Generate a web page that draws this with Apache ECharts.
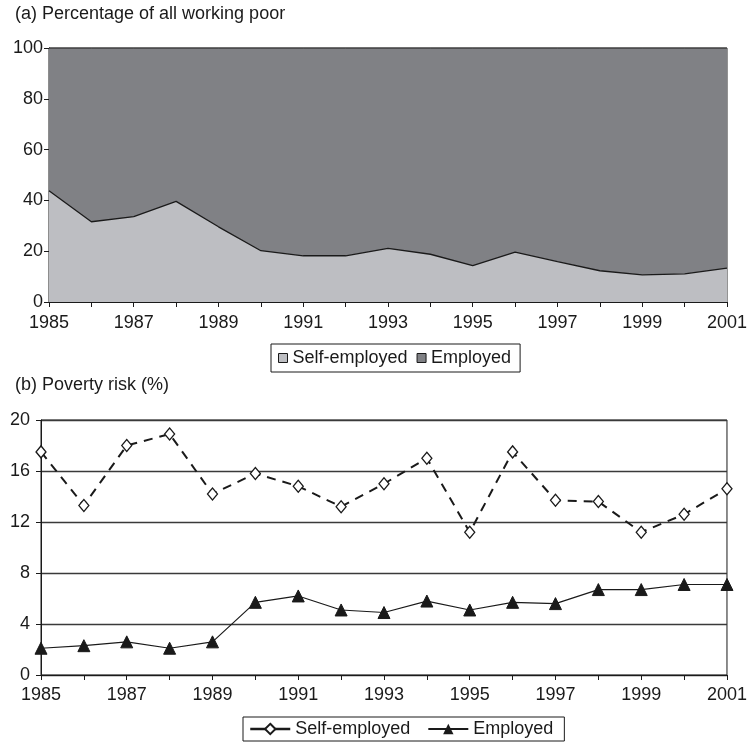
<!DOCTYPE html>
<html>
<head>
<meta charset="utf-8">
<script src="https://cdn.jsdelivr.net/npm/echarts@6/dist/echarts.min.js"></script>
<style>
  html, body { margin: 0; padding: 0; background: #fff; }
  #chart { width: 750px; height: 744px; }
</style>
</head>
<body>
<div id="chart"></div>
<script>
var years = ['1985', '1986', '1987', '1988', '1989', '1990', '1991', '1992', '1993',
  '1994', '1995', '1996', '1997', '1998', '1999', '2000', '2001'];

// (a) share of working poor, %
var shareSelf = [43.8, 31.6, 33.6, 39.6, 29.6, 20.2, 18.2, 18.2, 21.1, 18.8, 14.3, 19.6, 15.9, 12.3, 10.7, 11.1, 13.3];
var shareEmployed = [56.2, 68.4, 66.4, 60.4, 70.4, 79.8, 81.8, 81.8, 78.9, 81.2, 85.7, 80.4, 84.1, 87.7, 89.3, 88.9, 86.7];

// (b) poverty risk, %
var riskSelf = [17.5, 13.3, 18.0, 18.9, 14.2, 15.8, 14.8, 13.2, 15.0, 17.0, 11.2, 17.5, 13.7, 13.6, 11.2, 12.6, 14.6];
var riskEmployed = [2.1, 2.3, 2.6, 2.1, 2.6, 5.7, 6.2, 5.1, 4.9, 5.8, 5.1, 5.7, 5.6, 6.7, 6.7, 7.1, 7.1];

var font = 'Liberation Sans, Arial, sans-serif';
var ink = '#1a1a1a';
var fs = 18;

var chart = echarts.init(document.getElementById('chart'));

function xAxis(gridIndex, margin) {
  return {
    type: 'category',
    gridIndex: gridIndex,
    data: years,
    boundaryGap: false,
    axisLine: { lineStyle: { color: ink, width: 1 } },
    axisTick: { show: true, interval: 0, length: 5, lineStyle: { color: ink } },
    axisLabel: { interval: 1, color: ink, fontSize: fs, fontFamily: font, margin: margin },
    splitLine: { show: false }
  };
}

var option = {
  animation: false,
  backgroundColor: '#fff',
  title: [
    { text: '(a) Percentage of all working poor', left: 15, top: 5, padding: 0,
      textStyle: { fontSize: fs, fontWeight: 'normal', color: ink, fontFamily: font } },
    { text: '(b) Poverty risk (%)', left: 15, top: 376, padding: 0,
      textStyle: { fontSize: fs, fontWeight: 'normal', color: ink, fontFamily: font } }
  ],
  legend: [
    {
      data: [
        { name: 'Self-employed', icon: 'rect', itemStyle: { color: '#bdbec2', borderColor: ink, borderWidth: 1 } },
        { name: 'Employed', icon: 'rect', itemStyle: { color: '#808185', borderColor: ink, borderWidth: 1 } }
      ],
      left: 271, top: 344,
      itemWidth: 9, itemHeight: 9, itemGap: 9,
      padding: [5, 9, 5, 7],
      borderColor: ink, borderWidth: 1,
      textStyle: { fontSize: fs, color: ink, fontFamily: font }
    },
    {
      data: [
        { name: 'Self-employed ', lineStyle: { type: 'solid', width: 2.5 } },
        { name: 'Employed ' }
      ],
      left: 243, top: 717,
      itemWidth: 40, itemHeight: 13, itemGap: 12,
      padding: [3, 6, 3, 6],
      borderColor: ink, borderWidth: 1,
      textStyle: { fontSize: fs, color: ink, fontFamily: font }
    }
  ],
  grid: [
    { left: 49, right: 22, top: 48, height: 254, show: true, borderColor: ink, borderWidth: 1 },
    { left: 41, right: 22, top: 420, height: 255, show: true, borderColor: ink, borderWidth: 1 }
  ],
  xAxis: [xAxis(0, 12), xAxis(1, 11)],
  yAxis: [
    {
      type: 'value', gridIndex: 0, min: 0, max: 100, interval: 20,
      axisLine: { show: true, lineStyle: { color: ink } },
      axisTick: { show: true, length: 5, lineStyle: { color: ink } },
      axisLabel: { color: ink, fontSize: fs, fontFamily: font, margin: 6 },
      splitLine: { show: false }
    },
    {
      type: 'value', gridIndex: 1, min: 0, max: 20, interval: 4,
      axisLine: { show: true, lineStyle: { color: ink } },
      axisTick: { show: true, length: 5, lineStyle: { color: ink } },
      axisLabel: { color: ink, fontSize: fs, fontFamily: font, margin: 11 },
      splitLine: { show: true, lineStyle: { color: '#3a3a3a', width: 1.4 } }
    }
  ],
  series: [
    {
      name: 'Self-employed', type: 'line', xAxisIndex: 0, yAxisIndex: 0,
      stack: 'share', data: shareSelf, symbol: 'none',
      lineStyle: { color: ink, width: 1.3 },
      areaStyle: { color: '#bdbec2', opacity: 1 },
      itemStyle: { color: '#bdbec2' }
    },
    {
      name: 'Employed', type: 'line', xAxisIndex: 0, yAxisIndex: 0,
      stack: 'share', data: shareEmployed, symbol: 'none',
      lineStyle: { color: ink, width: 1 },
      areaStyle: { color: '#808185', opacity: 1 },
      itemStyle: { color: '#808185' }
    },
    {
      name: 'Self-employed ', type: 'line', xAxisIndex: 1, yAxisIndex: 1,
      data: riskSelf, symbol: 'diamond', symbolSize: [10, 12],
      lineStyle: { color: ink, width: 2, type: [9, 7] },
      itemStyle: { color: '#fff', borderColor: ink, borderWidth: 1.3 },
      z: 3
    },
    {
      name: 'Employed ', type: 'line', xAxisIndex: 1, yAxisIndex: 1,
      data: riskEmployed, symbol: 'triangle', symbolSize: 12,
      lineStyle: { color: ink, width: 1.2 },
      itemStyle: { color: ink, borderColor: ink }
    }
  ]
};

chart.setOption(option);
</script>
</body>
</html>
